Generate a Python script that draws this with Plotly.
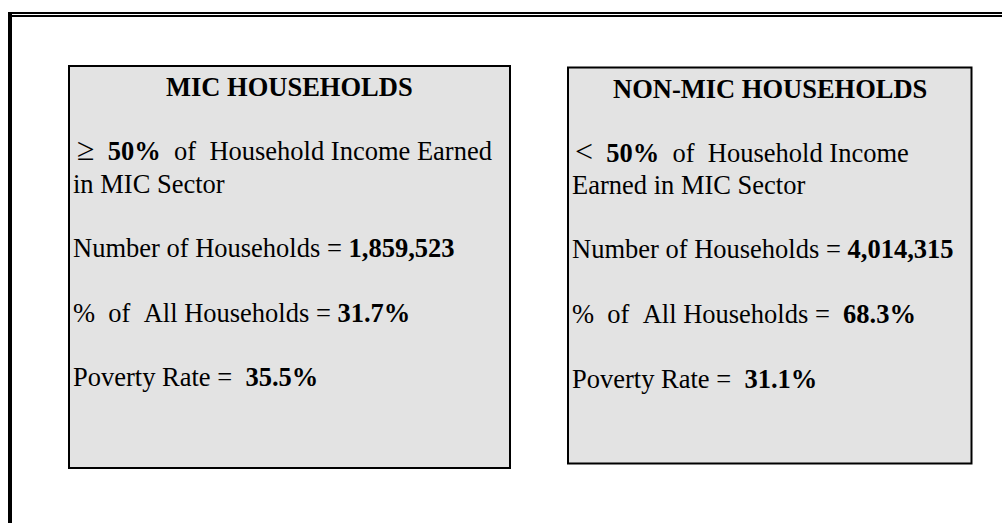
import plotly.graph_objects as go

# ---- data ----
groups = ["MIC HOUSEHOLDS", "NON-MIC HOUSEHOLDS"]
thresholds = ["\u2265", "&lt;"]
threshold_pct = [50, 50]
households = [1859523, 4014315]
share_pct = [31.7, 68.3]
poverty_pct = [35.5, 31.1]

# ---- layout constants ----
W, H = 1002, 523
FONT = "Liberation Serif, Times New Roman, serif"
FS = 26.5
BOX_FILL = "#e3e3e3"
boxes = [(69, 66, 510, 468), (568, 67.5, 971.5, 463.5)]
title_y = [87, 89]
line_y = [[149, 183.5, 248, 312.5, 376.5], [151, 184.5, 249, 314, 379]]
text_x = [71, 570]
sym_x = [75, 573]

NB = "\u00a0"

fig = go.Figure()
fig.update_layout(
    width=W, height=H, margin=dict(l=0, r=0, t=0, b=0),
    paper_bgcolor="white", plot_bgcolor="white", showlegend=False,
    xaxis=dict(range=[0, W], visible=False, fixedrange=True),
    yaxis=dict(range=[H, 0], visible=False, fixedrange=True),
)

shapes = []
# outer frame (top double rule + thick left rule)
shapes.append(dict(type="rect", x0=8, x1=W, y0=12, y1=14, fillcolor="black", line_width=0))
shapes.append(dict(type="rect", x0=12, x1=W, y0=15, y1=17, fillcolor="black", line_width=0))
shapes.append(dict(type="rect", x0=8, x1=12, y0=12, y1=H, fillcolor="black", line_width=0))
for (x0, y0, x1, y1) in boxes:
    shapes.append(dict(type="rect", x0=x0, x1=x1, y0=y0, y1=y1, fillcolor=BOX_FILL,
                       line=dict(color="black", width=2)))
fig.update_layout(shapes=shapes)

ann = []
def add(x, y, text, xanchor="left"):
    ann.append(dict(x=x, y=y, xref="x", yref="y", text=text, showarrow=False,
                    xanchor=xanchor, yanchor="middle", align="left",
                    font=dict(family=FONT, size=FS, color="black")))

for i in range(2):
    x0, y0, x1, y1 = boxes[i]
    add((x0 + x1) / 2, title_y[i], f"<b>{groups[i]}</b>", xanchor="center")
    ly = line_y[i]
    sym = f'<span style="font-size:32px">{thresholds[i]}</span>{NB}{NB}'
    if i == 0:
        l1 = f"{sym}<b>{threshold_pct[i]}%</b>{NB}{NB}of{NB}{NB}Household Income Earned"
        l2 = "in MIC Sector"
    else:
        l1 = f"{sym}<b>{threshold_pct[i]}%</b>{NB}{NB}of{NB}{NB}Household Income"
        l2 = "Earned in MIC Sector"
    add(sym_x[i], ly[0], l1)
    add(text_x[i], ly[1], l2)
    add(text_x[i], ly[2], f"Number of Households = <b>{households[i]:,}</b>")
    pad = NB if i == 1 else ""
    add(text_x[i], ly[3], f"%{NB}{NB}of{NB}{NB}All Households ={NB}{pad}<b>{share_pct[i]:.1f}%</b>")
    add(text_x[i], ly[4], f"Poverty Rate ={NB}{NB}<b>{poverty_pct[i]:.1f}%</b>")

fig.update_layout(annotations=ann)
fig.write_html("out.html", config={"displayModeBar": False},
               post_script="document.body.style.margin='0';")
